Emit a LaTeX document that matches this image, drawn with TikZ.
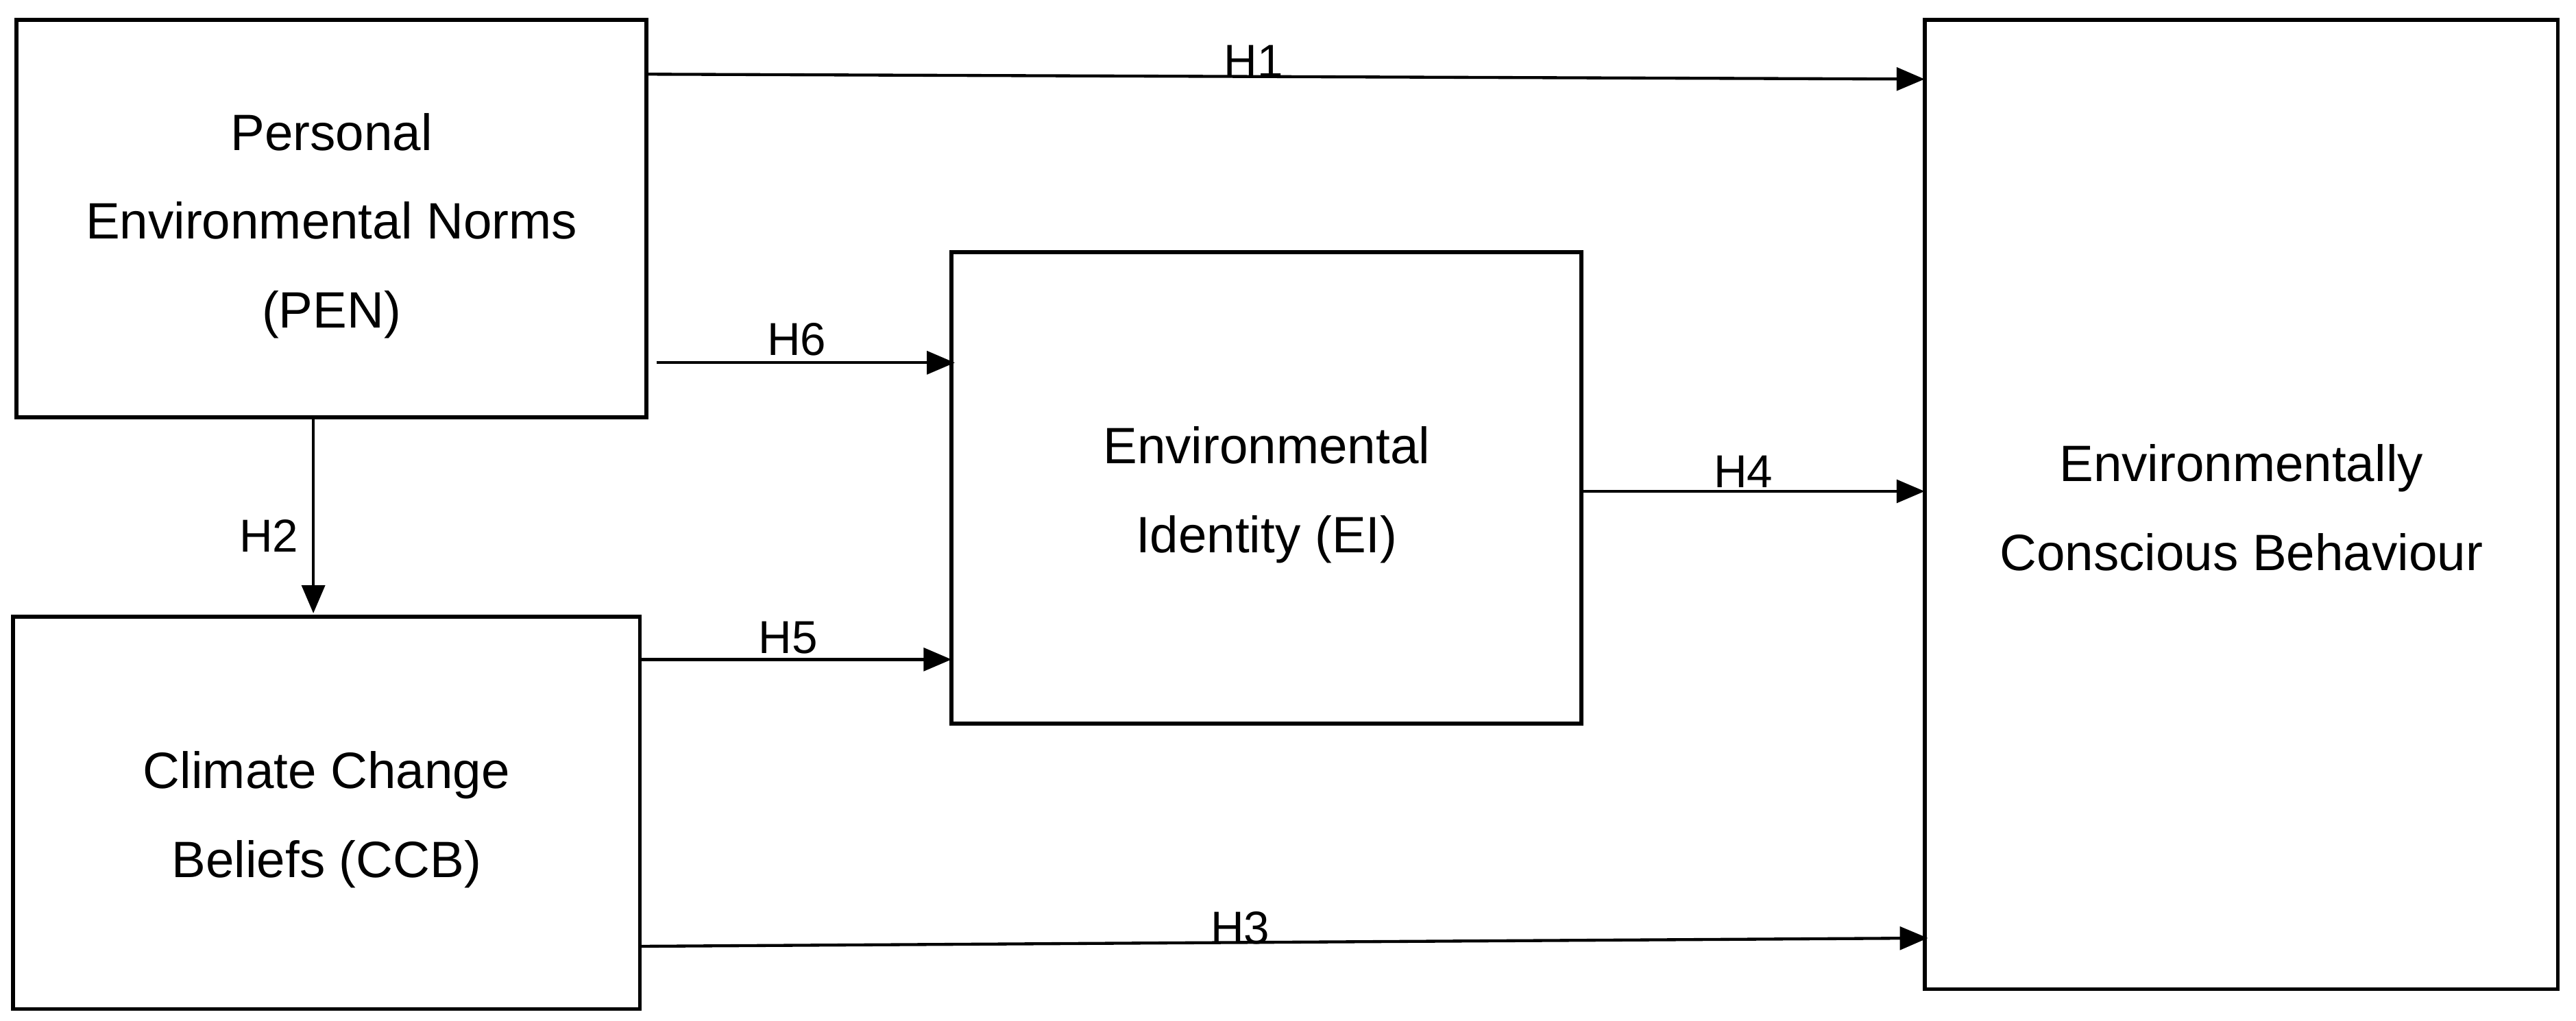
\documentclass[tikz,border=0pt]{standalone}
\usepackage{fontspec}
\setmainfont{Liberation Sans}
\usetikzlibrary{arrows.meta}
\begin{document}
\begin{tikzpicture}[x=1pt,y=-1pt,
  box/.style={draw, line width=2.4pt, inner sep=0pt},
  lbl/.style={font=\fontsize{31}{54}\selectfont, align=center},
  arr/.style={line width=1.8pt, -{Triangle[length=17pt,width=14pt]}},
  hl/.style={font=\fontsize{28}{30}\selectfont}]
\useasboundingbox (0,0) rectangle (1562,619);
\draw[box] (10,12) rectangle (392,253);
\node[lbl] (pen) at (201,137) {Personal\\Environmental Norms\\(PEN)};
\draw[box] (8,374) rectangle (388,612);
\node[lbl] (ccb) at (198,497) {Climate Change\\Beliefs (CCB)};
\draw[box] (577,153) rectangle (959,439);
\node[lbl] (ei) at (768,300) {Environmental\\Identity (EI)};
\draw[box] (1167,12) rectangle (1551,600);
\node[lbl] (ecb) at (1359,308) {Environmentally\\Conscious Behaviour};
\coordinate (a1) at (392,45); \coordinate (b1) at (1167,48);
\draw[arr] (a1) -- (b1); \node[hl] (h1) at (760,37) {H1};
\coordinate (a6) at (398,220); \coordinate (b6) at (579,220);
\draw[arr] (a6) -- (b6); \node[hl] (h6) at (483,206) {H6};
\coordinate (a2) at (190,253); \coordinate (b2) at (190,372);
\draw[arr] (a2) -- (b2); \node[hl] (h2) at (163,325) {H2};
\coordinate (a5) at (388,400); \coordinate (b5) at (577,400);
\draw[arr] (a5) -- (b5); \node[hl] (h5) at (478,387) {H5};
\coordinate (a4) at (959,298); \coordinate (b4) at (1167,298);
\draw[arr] (a4) -- (b4); \node[hl] (h4) at (1057,286) {H4};
\coordinate (a3) at (388,574); \coordinate (b3) at (1169,569);
\draw[arr] (a3) -- (b3); \node[hl] (h3) at (752,563) {H3};
\end{tikzpicture}
\end{document}
